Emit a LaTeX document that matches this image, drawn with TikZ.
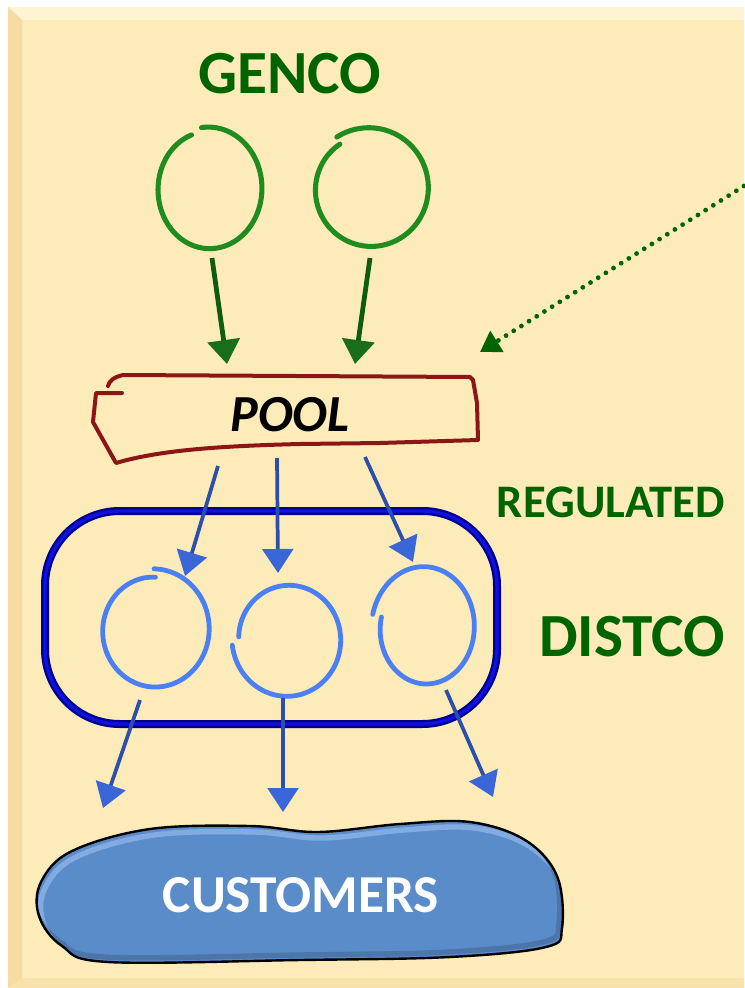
\documentclass[tikz,border=0pt]{standalone}
\usepackage{fontspec}
\setmainfont{Carlito}
\usetikzlibrary{arrows.meta}

\definecolor{panel}{HTML}{FEEBBA}
\definecolor{panellight}{HTML}{FFF4D2}
\definecolor{paneldark}{HTML}{F6DBA2}
\definecolor{labelgreen}{HTML}{006400}
\definecolor{ringgreen}{HTML}{1F8C1F}
\definecolor{arrowgreen}{HTML}{0E5C0E}
\definecolor{headgreen}{HTML}{1A6E1A}
\definecolor{poolred}{HTML}{8C1616}
\definecolor{framenavy}{HTML}{00008C}
\definecolor{frameblue}{HTML}{1010E0}
\definecolor{ringblue}{HTML}{4A80F4}
\definecolor{arrowblue}{HTML}{2C4FAA}
\definecolor{headblue}{HTML}{3B66D8}
\definecolor{custfill}{HTML}{5A8CC9}
\definecolor{custlight}{HTML}{8DB5E8}

% hand-drawn ring: centre, radii, start/end angle, start/end radius factor, style
\newcommand{\handring}[9]{%
  \draw[#9] plot[domain=0:1, samples=140, smooth, variable=\t]
    ({#1+#3*(#7+(#8-(#7))*\t)*cos(#5+(#6-(#5))*\t)},
     {#2+#4*(#7+(#8-(#7))*\t)*sin(#5+(#6-(#5))*\t)});}

\tikzset{
  title/.style={font=\bfseries, text=labelgreen, inner sep=0pt},
  ringnode/.style={inner sep=0pt, minimum size=0pt},
  gring/.style={draw=ringgreen, line width=3.8pt, line cap=round},
  bring/.style={draw=ringblue, line width=3.6pt, line cap=round},
  garrow/.style={draw=arrowgreen, line width=3.6pt,
    -{Triangle[width=24pt,length=18pt,color=headgreen]}},
  barrow/.style={draw=arrowblue, line width=2.8pt,
    -{Triangle[width=23pt,length=18pt,color=headblue]}},
  dotarrow/.style={draw=labelgreen, line width=3.6pt, line cap=round,
    dash pattern=on 0pt off 6.8pt,
    -{Triangle[width=18pt,length=15pt,color=labelgreen]}},
}

\begin{document}
\begin{tikzpicture}[x=0.75pt, y=-0.75pt]
\useasboundingbox (0,0) rectangle (744,988);

% panel with bevelled edges
\fill[white] (0,0) rectangle (744,988);
\fill[panel] (8,7) rectangle (744,988);
\fill[panellight] (8,7) -- (744,7) -- (744,20) -- (22,20) -- cycle;
\fill[paneldark] (8,7) -- (22,20) -- (22,978) -- (8,988) -- cycle;
\fill[paneldark!60!panel] (8,988) -- (22,978) -- (744,978) -- (744,988) -- cycle;

% headings
\node[title, font=\fontsize{46}{46}\selectfont\bfseries] (genco) at (290,74) {GENCO};
\node[title, font=\fontsize{35}{35}\selectfont\bfseries] (regulated) at (611,502) {REGULATED};
\node[title, font=\fontsize{46}{46}\selectfont\bfseries] (distco) at (632,637) {DISTCO};

% generating companies
\node[ringnode] (g1) at (209,189) {};
\node[ringnode] (g2) at (370,189) {};
\handring{209}{189}{54}{62}{-98}{250}{1.0}{0.93}{gring}
\handring{370}{189}{58}{59}{-123}{236}{1.05}{0.92}{gring}

% pool
\node[inner sep=0pt, font=\fontsize{39}{39}\selectfont\bfseries\itshape] (pool) at (290,415) {POOL};
\draw[poolred, line width=3pt, line join=round, line cap=round]
  (122,393) -- (96,393) -- (93,422) -- (116,463)
  .. controls (160,450) and (220,446) .. (300,444)
  -- (380,443) -- (478,440) -- (477,403) -- (473,380) -- (470,377)
  -- (123,375) .. controls (114,377) and (109,381) .. (108,386);

% regulated distribution frame
\draw[framenavy, line width=6pt, rounded corners=56pt] (45,511) rectangle (497,724);
\draw[frameblue, line width=2.6pt, rounded corners=56pt] (45,511) rectangle (497,724);

% distribution companies
\node[ringnode] (d1) at (154,630) {};
\node[ringnode] (d2) at (288,639) {};
\node[ringnode] (d3) at (425,628) {};
\handring{154}{630}{56}{60}{-90}{272}{1.02}{0.88}{bring}
\handring{288}{639}{56}{59}{174}{-178}{1.0}{0.88}{bring}
\handring{425}{628}{53}{63}{192}{-168}{0.84}{1.01}{bring}

% customers
\def\custpath{plot[smooth cycle, tension=0.6] coordinates {
  (41,882) (72,851) (150,829) (250,826) (318,832) (400,824)
  (470,822) (525,840) (557,876) (562,928) (546,947)
  (450,957) (300,960) (108,962) (62,946) (39,916)}}
\fill[custfill] \custpath;
\begin{scope}
  \clip \custpath;
  \draw[custlight, line width=4pt, opacity=0.8, shift={(4,6)}] \custpath;
  \draw[custfill!70!black, line width=4pt, opacity=0.5, shift={(-3,-5)}] \custpath;
\end{scope}
\draw[black, line width=1.8pt] \custpath;
\node[inner sep=0pt, text=white, font=\fontsize{40}{40}\selectfont\bfseries] (customers) at (301,895) {CUSTOMERS};

% connector end points
\coordinate (g1out) at (212,258);  \coordinate (g1in) at (227,364);
\coordinate (g2out) at (370,258);  \coordinate (g2in) at (355,364);
\coordinate (p1) at (218,466);     \coordinate (d1in) at (185,576);
\coordinate (p2) at (277,458);     \coordinate (d2in) at (278,573);
\coordinate (p3) at (365,457);     \coordinate (d3in) at (413,562);
\coordinate (d1out) at (140,700);  \coordinate (c1) at (103,808);
\coordinate (d2out) at (283,698);  \coordinate (c2) at (283,812);
\coordinate (d3out) at (446,690);  \coordinate (c3) at (493,797);
\coordinate (noteend) at (744,186); \coordinate (poolcorner) at (480,352);

% flows
\draw[garrow] (g1out) -- (g1in);
\draw[garrow] (g2out) -- (g2in);
\draw[barrow] (p1) -- (d1in);
\draw[barrow] (p2) -- (d2in);
\draw[barrow] (p3) -- (d3in);
\draw[barrow] (d1out) -- (c1);
\draw[barrow] (d2out) -- (c2);
\draw[barrow] (d3out) -- (c3);
\draw[dotarrow] (noteend) -- (poolcorner);
\end{tikzpicture}
\end{document}
